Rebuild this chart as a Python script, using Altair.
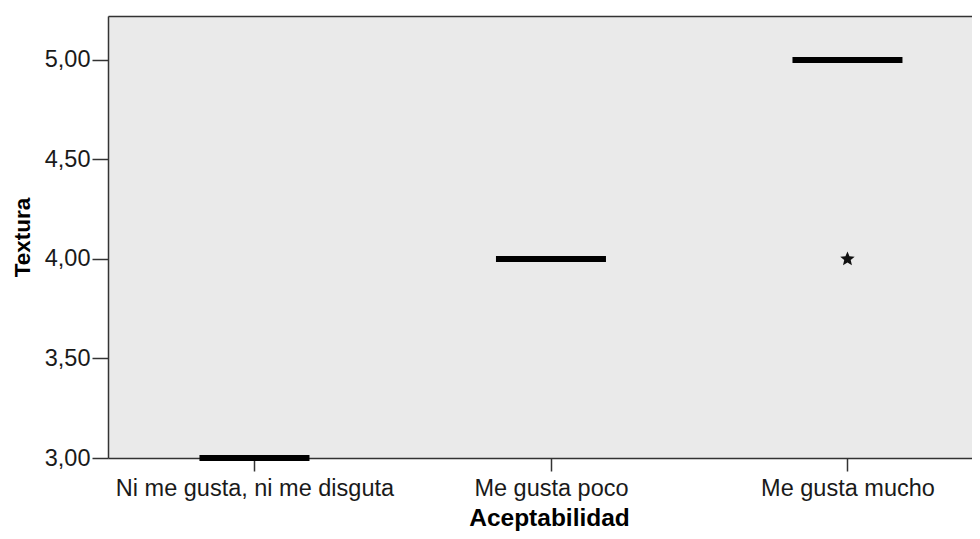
import json
import math
import altair as alt
import pandas as pd

# ---- data ----
categories = ["Ni me gusta, ni me disguta", "Me gusta poco", "Me gusta mucho"]
medians = [3.0, 4.0, 5.0]
outlier_categories = ["Me gusta mucho"]
outlier_values = [4.0]
y_ticks = [3.0, 3.5, 4.0, 4.5, 5.0]

box_df = pd.DataFrame({
    "cat": categories,
    "pos": [categories.index(c) for c in categories],
    "median": medians,
})
out_df = pd.DataFrame({
    "cat": outlier_categories,
    "pos": [categories.index(c) for c in outlier_categories],
    "value": outlier_values,
})

FONT = "Liberation Sans"
AXIS_COLOR = "#333333"
label_expr = json.dumps(categories) + "[round(datum.value)]"

# five-pointed star symbol (unit box -1..1)
pts = []
for k in range(10):
    r = 1.0 if k % 2 == 0 else 0.45
    a = math.radians(-90 + 36 * k)
    pts.append(f"{r*math.cos(a):.3f},{r*math.sin(a):.3f}")
star = "M" + " L".join(pts) + " Z"

x_scale = alt.Scale(domain=[-0.494, 2.420], nice=False, zero=False)
y_scale = alt.Scale(domain=[3.0, 5.221], nice=False, zero=False)

x_enc = alt.X(
    "pos:Q",
    scale=x_scale,
    axis=alt.Axis(
        title="Aceptabilidad",
        values=[0, 1, 2],
        labelExpr=label_expr,
        labelLimit=0,
        labelFontSize=23.5,
        tickSize=13,
        labelPadding=5,
        grid=False,
        titleFontSize=24.5,
        titleX=441,
        titleY=67,
        titleAlign="center",
        titleBaseline="alphabetic",
    ),
)
y_axis = alt.Axis(
    title="Textura",
    values=y_ticks,
    labelExpr="replace(format(datum.value, '.2f'), '.', ',')",
    labelFontSize=23.5,
    tickSize=16,
    labelPadding=2,
    grid=False,
    titleFontSize=22.5,
    titleAngle=270,
    titleX=-86,
    titleY=221,
    titleAlign="center",
    titleBaseline="middle",
)

medians_layer = alt.Chart(box_df).mark_tick(
    orient="horizontal", size=110, thickness=6, color="black", opacity=1
).encode(
    x=x_enc,
    y=alt.Y("median:Q", scale=y_scale, axis=y_axis),
)

outliers_layer = alt.Chart(out_df).mark_point(
    shape=star, size=230, filled=True, color="#111", opacity=1
).encode(
    x=alt.X("pos:Q", axis=None),
    y=alt.Y("value:Q"),
)

# top frame line of the plot area (axis domain only)
frame_layer = alt.Chart(box_df).mark_tick(opacity=0).encode(
    x=alt.X(
        "pos:Q",
        scale=x_scale,
        axis=alt.Axis(orient="top", labels=False, ticks=False, grid=False,
                      title=None, domain=True),
    ),
    y=alt.Y("median:Q"),
)

chart = (
    alt.layer(medians_layer, outliers_layer, frame_layer)
    .resolve_axis(x="independent")
    .properties(
        width=864,
        height=442,
        autosize="none",
        padding={"left": 100, "top": 8, "right": 0, "bottom": 73},
    )
    .configure_view(fill="#EAEAEA", stroke=None)
    .configure_axis(
        labelFont=FONT,
        titleFont=FONT,
        titleFontWeight="bold",
        labelColor="#1a1a1a",
        titleColor="#000000",
        domainColor=AXIS_COLOR,
        domainWidth=1.5,
        tickColor=AXIS_COLOR,
        tickWidth=1.5,
    )
)

chart.save("out.html", embed_options={"renderer": "svg", "actions": False})
